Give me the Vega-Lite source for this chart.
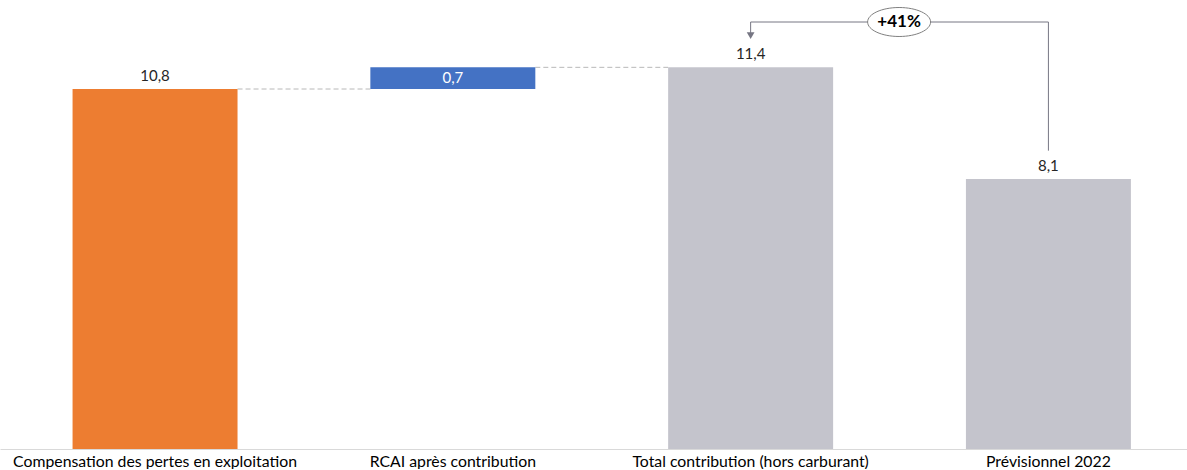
{
  "$schema": "https://vega.github.io/schema/vega-lite/v6.json",
  "width": 1187,
  "height": 449,
  "padding": {"left": 0, "top": 0, "right": 0, "bottom": 0},
  "autosize": {"type": "pad"},
  "config": {"view": {"stroke": null}, "font": "Lato"},
  "datasets": {
    "bars": [
      {"cat": "Compensation des pertes en exploitation", "start": 0, "end": 10.8, "label": "10,8", "kind": "comp"},
      {"cat": "RCAI après contribution", "start": 10.8, "end": 11.45, "label": "0,7", "kind": "delta"},
      {"cat": "Total contribution (hors carburant)", "start": 0, "end": 11.45, "label": "11,4", "kind": "total"},
      {"cat": "Prévisionnel 2022", "start": 0, "end": 8.1, "label": "8,1", "kind": "prev"}
    ],
    "links": [
      {"from": "Compensation des pertes en exploitation", "to": "RCAI après contribution", "level": 10.8},
      {"from": "RCAI après contribution", "to": "Total contribution (hors carburant)", "level": 11.45}
    ],
    "bracket": [
      {"from": "Total contribution (hors carburant)", "to": "Prévisionnel 2022", "low": 8.95, "top": 12.81, "tip": 12.45, "arrow": 12.4, "text": "+41%"}
    ]
  },
  "encoding": {
    "x": {
      "type": "nominal",
      "scale": {"domain": ["Compensation des pertes en exploitation", "RCAI après contribution", "Total contribution (hors carburant)", "Prévisionnel 2022"], "paddingInner": 0.446, "paddingOuter": 0.216, "align": 0.564},
      "axis": {"title": null, "labelAngle": 0, "ticks": false, "domainColor": "#d9d9d9", "domainWidth": 1, "labelFontSize": 15.8, "labelColor": "#000000", "labelPadding": 5, "labelFont": "Lato", "labelLimit": 0}
    },
    "y": {"type": "quantitative", "scale": {"domain": [0, 13.47], "nice": false, "zero": false}, "axis": null}
  },
  "layer": [
    {
      "data": {"name": "links"},
      "mark": {"type": "rule", "strokeDash": [5, 3], "color": "#b8b8b8", "strokeWidth": 1},
      "encoding": {
        "x": {"field": "from", "type": "nominal", "bandPosition": 1},
        "x2": {"field": "to", "bandPosition": 0},
        "y": {"field": "level", "type": "quantitative"}
      }
    },
    {
      "data": {"name": "bars"},
      "mark": {"type": "bar"},
      "encoding": {
        "x": {"field": "cat", "type": "nominal"},
        "y": {"field": "end", "type": "quantitative"},
        "y2": {"field": "start"},
        "color": {
          "field": "kind", "type": "nominal", "legend": null,
          "scale": {"domain": ["comp", "delta", "total", "prev"], "range": ["#ED7D31", "#4472C4", "#C4C4CC", "#C4C4CC"]}
        }
      }
    },
    {
      "data": {"name": "bars"},
      "transform": [{"filter": "datum.kind != 'delta'"}],
      "mark": {"type": "text", "baseline": "bottom", "dy": -5, "fontSize": 15, "color": "#262626"},
      "encoding": {
        "x": {"field": "cat", "type": "nominal"},
        "y": {"field": "end", "type": "quantitative"},
        "text": {"field": "label"}
      }
    },
    {
      "data": {"name": "bars"},
      "transform": [{"filter": "datum.kind == 'delta'"}],
      "mark": {"type": "text", "baseline": "middle", "dy": 11, "fontSize": 15, "color": "#ffffff"},
      "encoding": {
        "x": {"field": "cat", "type": "nominal"},
        "y": {"field": "end", "type": "quantitative"},
        "text": {"field": "label"}
      }
    },
    {
      "data": {"name": "bracket"},
      "mark": {"type": "rule", "color": "#767683", "strokeWidth": 1},
      "encoding": {
        "x": {"field": "from", "type": "nominal"},
        "x2": {"field": "to"},
        "y": {"field": "top", "type": "quantitative"}
      }
    },
    {
      "data": {"name": "bracket"},
      "mark": {"type": "rule", "color": "#767683", "strokeWidth": 1},
      "encoding": {
        "x": {"field": "to", "type": "nominal"},
        "y": {"field": "low", "type": "quantitative"},
        "y2": {"field": "top"}
      }
    },
    {
      "data": {"name": "bracket"},
      "mark": {"type": "rule", "color": "#767683", "strokeWidth": 1},
      "encoding": {
        "x": {"field": "from", "type": "nominal"},
        "y": {"field": "tip", "type": "quantitative"},
        "y2": {"field": "top"}
      }
    },
    {
      "data": {"name": "bracket"},
      "mark": {"type": "point", "shape": "triangle-down", "filled": true, "color": "#767683", "size": 60, "opacity": 1},
      "encoding": {
        "x": {"field": "from", "type": "nominal"},
        "y": {"field": "arrow", "type": "quantitative"}
      }
    },
    {
      "data": {"name": "bracket"},
      "mark": {"type": "point", "shape": "M-1,0 A1,0.46 0 1,1 1,0 A1,0.46 0 1,1 -1,0 Z", "filled": true, "fill": "#ffffff", "stroke": "#808080", "strokeWidth": 1, "size": 3969, "opacity": 1, "fillOpacity": 1},
      "encoding": {
        "x": {"field": "from", "type": "nominal", "bandPosition": 1.4},
        "y": {"field": "top", "type": "quantitative"}
      }
    },
    {
      "data": {"name": "bracket"},
      "mark": {"type": "text", "fontSize": 17, "fontWeight": "bold", "color": "#000000", "baseline": "middle"},
      "encoding": {
        "x": {"field": "from", "type": "nominal", "bandPosition": 1.4},
        "y": {"field": "top", "type": "quantitative"},
        "text": {"field": "text"}
      }
    }
  ]
}
